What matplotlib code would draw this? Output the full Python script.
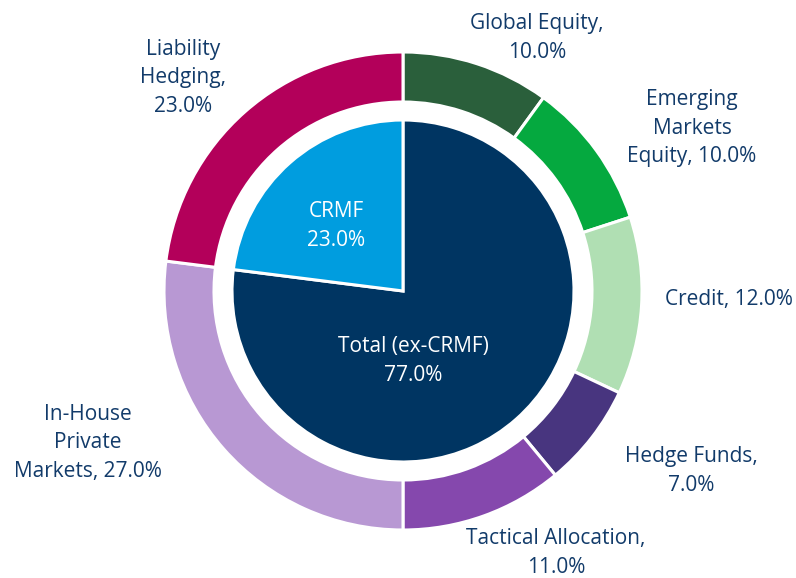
import matplotlib.pyplot as plt

plt.rcParams['font.family'] = ['Open Sans', 'DejaVu Sans']

# outer ring, clockwise from 12 o'clock
outer_labels = ['Global Equity,\n10.0%', 'Emerging\nMarkets\nEquity, 10.0%', 'Credit, 12.0%',
                'Hedge Funds,\n7.0%', 'Tactical Allocation,\n11.0%',
                'In-House\nPrivate\nMarkets, 27.0%', 'Liability\nHedging,\n23.0%']
outer_values = [10.0, 10.0, 12.0, 7.0, 11.0, 27.0, 23.0]
outer_colors = ['#2a5f3b', '#05a93f', '#b0dfb3', '#48357f', '#8548ad', '#b898d3', '#b3005a']

# inner pie
inner_labels = ['Total (ex-CRMF)\n77.0%', 'CRMF\n23.0%']
inner_values = [77.0, 23.0]
inner_colors = ['#003562', '#009ddf']

text_color = '#123b6a'

# label positions in pixels (x, y from top)
outer_pos = [(537, 38), (692, 128), (729, 300), (691, 471), (556, 553), (88, 443), (183, 78)]
inner_pos = [(413, 361), (336, 226)]

W, H = 796, 578
cx, cy = 403, H - 291
R = 239

fig = plt.figure(figsize=(W / 100, H / 100), dpi=100)
ax = fig.add_axes([0, 0, 1, 1])

ax.pie(outer_values, colors=outer_colors, startangle=90, counterclock=False,
       center=(cx, cy), radius=R, frame=True,
       wedgeprops=dict(width=R - 189, edgecolor='white', linewidth=2.2))
ax.pie(inner_values, colors=inner_colors, startangle=90, counterclock=False,
       center=(cx, cy), radius=171, frame=True,
       wedgeprops=dict(edgecolor='white', linewidth=2.2))
ax.set_xlim(0, W)
ax.set_ylim(0, H)
ax.set_aspect('equal')
ax.axis('off')

for lab, (x, y) in zip(outer_labels, outer_pos):
    ax.text(x, H - y, lab, ha='center', va='center', fontsize=15,
            color=text_color, linespacing=1.45)
for lab, (x, y) in zip(inner_labels, inner_pos):
    ax.text(x, H - y, lab, ha='center', va='center', fontsize=15,
            color='white', linespacing=1.45)

fig.savefig('out.png', dpi=100)
